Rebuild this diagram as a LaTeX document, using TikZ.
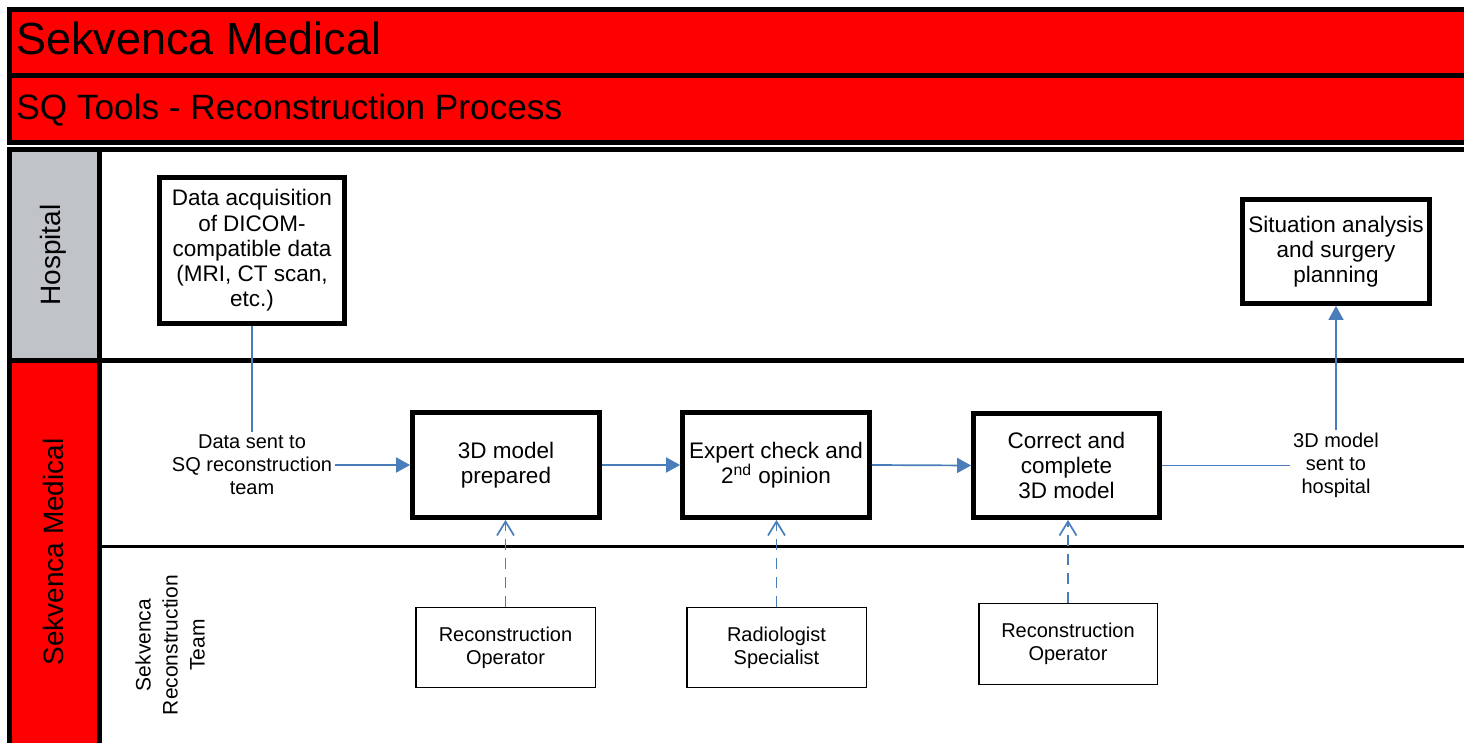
\documentclass[tikz,border=0pt]{standalone}
\usepackage{fontspec}
\setmainfont{Liberation Sans}
\usetikzlibrary{arrows.meta}
\definecolor{flowblue}{RGB}{74,126,187}
\definecolor{lanegray}{RGB}{192,196,200}
\definecolor{headred}{RGB}{255,0,0}
\begin{document}
\begin{tikzpicture}[x=0.5pt,y=-0.5pt,
  bigbox/.style={draw, line width=2.4pt, fill=white, align=center, inner sep=0pt,
    font=\fontsize{11.25}{12.6}\selectfont},
  rolebox/.style={draw, line width=0.75pt, fill=white, align=center, inner sep=0pt,
    font=\fontsize{10}{11.5}\selectfont, minimum width=89.75pt, minimum height=39.75pt},
  flow/.style={draw=flowblue, line width=0.85pt, -{Triangle[length=7pt,width=7.5pt]}},
  assoc/.style={draw=flowblue, line width=0.85pt, dash pattern=on 5.5pt off 4pt,
    -{Straight Barb[length=7pt,width=8.5pt]}},
  lbl/.style={fill=white, align=center, inner sep=1.5pt, text=black,
    font=\fontsize{10}{11.5}\selectfont},
  frame/.style={draw=black, line width=2.5pt},
  lanetext/.style={rotate=90, inner sep=0pt, font=\fontsize{14}{17}\selectfont}
]
\clip (0,0) rectangle (1464,743);
\fill[white] (0,0) rectangle (1464,743);

% header bands
\draw[frame, fill=headred] (9.5,9.5) rectangle (1490,75.5);
\draw[frame, fill=headred] (9.5,75.5) rectangle (1490,142.5);
\node[anchor=base west, inner sep=0pt, font=\fontsize{22.5}{27}\selectfont] (title) at (16,55) {Sekvenca Medical};
\node[anchor=base west, inner sep=0pt, font=\fontsize{17.6}{21}\selectfont] (subtitle) at (16,120) {SQ Tools - Reconstruction Process};

% pool lane headers
\fill[lanegray] (12,152) rectangle (97,358);
\fill[headred] (12,363) rectangle (97,770);
\draw[frame] (9.5,770) -- (9.5,149.5) -- (1490,149.5);
\draw[frame] (99,149.5) -- (99,770);
\draw[frame] (9.5,360.5) -- (1490,360.5);
\draw[draw=black, line width=1.6pt] (99,546.5) -- (1490,546.5);

\node[lanetext] (hosp) at (53,255) {Hospital};
\node[lanetext] (sekv) at (53,552) {Sekvenca Medical};
\node[rotate=90, align=center, inner sep=0pt, font=\fontsize{10.5}{13.5}\selectfont] (team) at (170,645) {Sekvenca\\Reconstruction\\Team};

% process boxes
\node[bigbox, minimum width=92.5pt, minimum height=73pt] (b1) at (252,250.5)
  {Data acquisition\\of DICOM-\\compatible data\\(MRI, CT scan,\\etc.)};
\node[bigbox, minimum width=93.5pt, minimum height=52pt] (b2) at (1336,251.5)
  {Situation analysis\\and surgery\\planning};
\node[bigbox, minimum width=93.5pt, minimum height=52.5pt] (b3) at (506,465)
  {3D model\\prepared};
\node[bigbox, minimum width=93.5pt, minimum height=52.5pt] (b4) at (776,465)
  {Expert check and\\2\textsuperscript{nd} opinion};
\node[bigbox, minimum width=93pt, minimum height=52pt] (b5) at (1066.5,465.5)
  {Correct and\\complete\\3D model};

% role boxes
\node[rolebox] (b6) at (505.5,647.5) {Reconstruction\\Operator};
\node[rolebox] (b7) at (776.5,647.5) {Radiologist\\Specialist};
\node[rolebox, minimum width=89.25pt, minimum height=40.25pt] (b8) at (1068,644) {Reconstruction\\Operator};

% flows
\draw[flow] (b1.south) |- (b3.west)
  node[lbl, pos=0.5] (l1) {Data sent to\\SQ reconstruction\\team};
\draw[flow] (b3.east) -- (b4.west);
\draw[flow] (b4.east) -- (b5.west);
\draw[flow] (b5.east) -| (b2.south)
  node[lbl, pos=0.5] (l2) {3D model\\sent to\\hospital};

% associations
\draw[assoc] (b6.north) -- (b6.north |- b3.south);
\draw[assoc] (b7.north) -- (b7.north |- b4.south);
\draw[assoc] (b8.north) -- (b8.north |- b5.south);
\end{tikzpicture}
\end{document}
